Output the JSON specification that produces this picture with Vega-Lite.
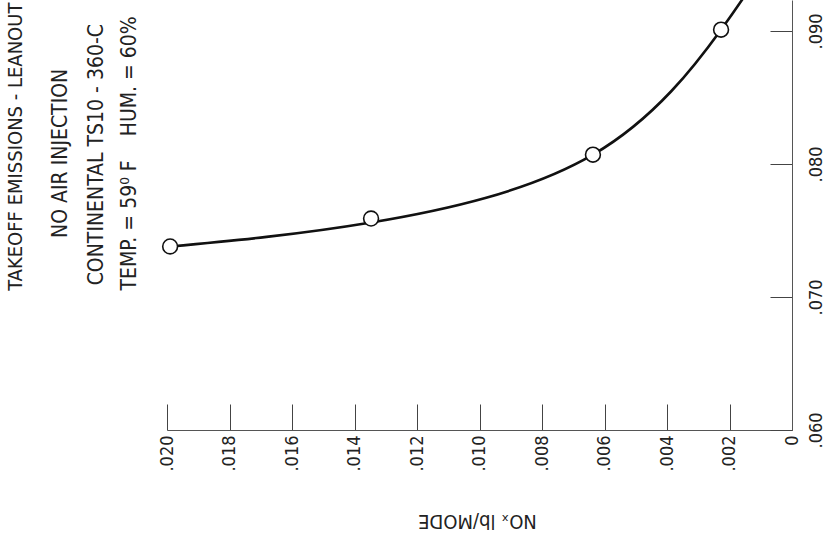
{
  "$schema": "https://vega.github.io/schema/vega-lite/v6.json",
  "width": 625,
  "height": 430,
  "autosize": {"type": "none"},
  "padding": {"left": 167, "top": 0, "right": 40, "bottom": 109},
  "background": "white",
  "config": {
    "view": {"stroke": null},
    "font": "DejaVu Sans Condensed, Liberation Sans, sans-serif",
    "axis": {
      "labelFont": "DejaVu Sans Condensed, Liberation Sans, sans-serif",
      "titleFont": "DejaVu Sans Condensed, Liberation Sans, sans-serif",
      "labelColor": "#222",
      "titleColor": "#222",
      "domainColor": "#555",
      "tickColor": "#444",
      "grid": false
    }
  },
  "datasets": {
    "fit": [
      {"nox": 0.0199, "idx": 0.0738},
      {"nox": 0.01347, "idx": 0.0756},
      {"nox": 0.00637, "idx": 0.0807},
      {"nox": 0.00227, "idx": 0.0901},
      {"nox": 0.0010, "idx": 0.0945}
    ],
    "measured": [
      {"nox": 0.0199, "idx": 0.0738},
      {"nox": 0.01347, "idx": 0.0759},
      {"nox": 0.00637, "idx": 0.0807},
      {"nox": 0.00227, "idx": 0.0901}
    ]
  },
  "layer": [
    {
      "data": {"name": "fit"},
      "mark": {"type": "line", "interpolate": "natural", "color": "#111", "strokeWidth": 2.6, "clip": true},
      "encoding": {
        "x": {
          "field": "nox",
          "type": "quantitative",
          "scale": {"domain": [0, 0.02], "reverse": true, "zero": false, "nice": false},
          "axis": {
            "orient": "bottom",
            "values": [0, 0.002, 0.004, 0.006, 0.008, 0.01, 0.012, 0.014, 0.016, 0.018, 0.02],
            "labelExpr": "datum.value == 0 ? '0' : replace(format(datum.value, '.3f'), '0.', '.')",
            "tickSize": -26,
            "labelAngle": 270,
            "labelAlign": "right",
            "labelBaseline": "middle",
            "labelPadding": 31,
            "labelFontSize": 18,
            "labelOverlap": false,
            "title": "NOₓ lb/MODE",
            "titleAngle": 180,
            "titleFontSize": 20,
            "titleFontWeight": "normal",
            "titleAlign": "center",
            "titleBaseline": "middle",
            "titleX": 310,
            "titleY": 90
          }
        },
        "y": {
          "field": "idx",
          "type": "quantitative",
          "scale": {"domain": [0.06, 0.09233], "zero": false, "nice": false},
          "axis": {
            "orient": "right",
            "values": [0.06, 0.07, 0.08, 0.09],
            "labelExpr": "replace(format(datum.value, '.3f'), '0.', '.')",
            "tickSize": -22,
            "labelAngle": 270,
            "labelAlign": "center",
            "labelBaseline": "top",
            "labelPadding": 37,
            "labelFontSize": 18,
            "labelOverlap": false,
            "title": null
          }
        }
      }
    },
    {
      "data": {"name": "measured"},
      "mark": {"type": "point", "shape": "circle", "filled": true, "fill": "white", "stroke": "#111", "strokeWidth": 1.6, "size": 220, "opacity": 1},
      "encoding": {
        "x": {"field": "nox", "type": "quantitative"},
        "y": {"field": "idx", "type": "quantitative"}
      }
    },
    {
      "data": {"values": [{"caption": "TAKEOFF EMISSIONS - LEANOUT"}]},
      "mark": {"type": "text", "angle": 270, "align": "center", "baseline": "middle", "fontSize": 20, "color": "#222"},
      "encoding": {
        "x": {"datum": 0.02483, "type": "quantitative"},
        "y": {"datum": 0.0813, "type": "quantitative"},
        "text": {"field": "caption"}
      }
    },
    {
      "data": {"values": [{"caption": "NO AIR INJECTION"}]},
      "mark": {"type": "text", "angle": 270, "align": "center", "baseline": "middle", "fontSize": 21, "color": "#222"},
      "encoding": {
        "x": {"datum": 0.02339, "type": "quantitative"},
        "y": {"datum": 0.0808, "type": "quantitative"},
        "text": {"field": "caption"}
      }
    },
    {
      "data": {"values": [{"caption": "CONTINENTAL TS10 - 360-C"}]},
      "mark": {"type": "text", "angle": 270, "align": "center", "baseline": "middle", "fontSize": 21, "color": "#222"},
      "encoding": {
        "x": {"datum": 0.02224, "type": "quantitative"},
        "y": {"datum": 0.0807, "type": "quantitative"},
        "text": {"field": "caption"}
      }
    },
    {
      "data": {"values": [{"caption": "TEMP. = 59⁰ F\u00a0\u00a0\u00a0\u00a0HUM. = 60%"}]},
      "mark": {"type": "text", "angle": 270, "align": "center", "baseline": "middle", "fontSize": 21, "color": "#222"},
      "encoding": {
        "x": {"datum": 0.02118, "type": "quantitative"},
        "y": {"datum": 0.0808, "type": "quantitative"},
        "text": {"field": "caption"}
      }
    }
  ]
}
